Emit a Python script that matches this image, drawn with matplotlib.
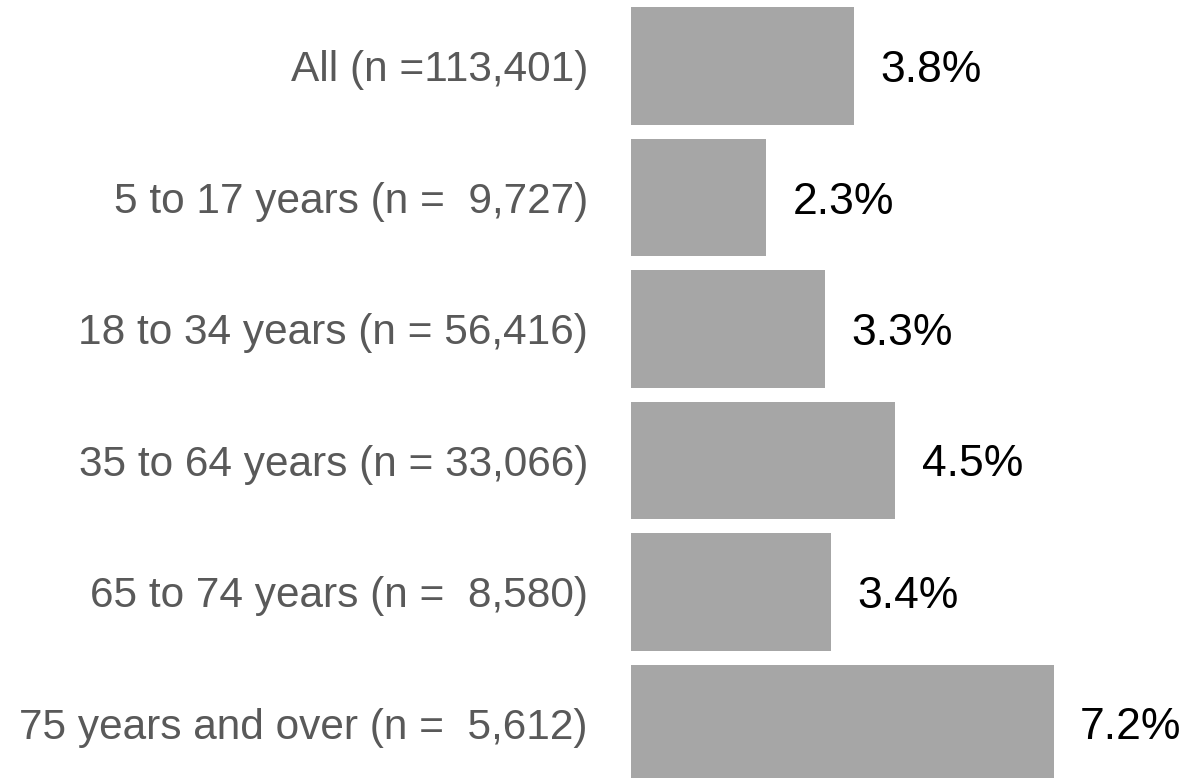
import numpy as np
import matplotlib.pyplot as plt

plt.rcParams['font.family'] = ['Liberation Sans', 'DejaVu Sans']

# data
groups = ["All (n =113,401)", "5 to 17 years (n =  9,727)", "18 to 34 years (n = 56,416)",
          "35 to 64 years (n = 33,066)", "65 to 74 years (n =  8,580)", "75 years and over (n =  5,612)"]
pct = [3.8, 2.3, 3.3, 4.5, 3.4, 7.2]

fig = plt.figure(figsize=(11.87, 7.78), dpi=100)
ax = fig.add_axes([631 / 1187, 0, 1 - 631 / 1187, 1])

y = np.arange(len(groups))
ax.barh(y, pct, height=0.897, color='#a6a6a6')

ax.set_xlim(0, 556 / 58.7)
ax.set_ylim((778 - 66) / 131.5, -66 / 131.5)

ax.set_yticks(y)
ax.set_yticklabels(groups, fontsize=30.5, color='#595959', va='center_baseline')
ax.tick_params(axis='y', length=0, pad=31)
ax.set_xticks([])
for s in ax.spines.values():
    s.set_visible(False)

for yi, v in zip(y, pct):
    ax.annotate(f"{v:.1f}%", (v, yi), xytext=(19, 0), textcoords='offset points',
                va='center_baseline', ha='left', fontsize=32, color='black')

fig.savefig('out.png', dpi=100)
